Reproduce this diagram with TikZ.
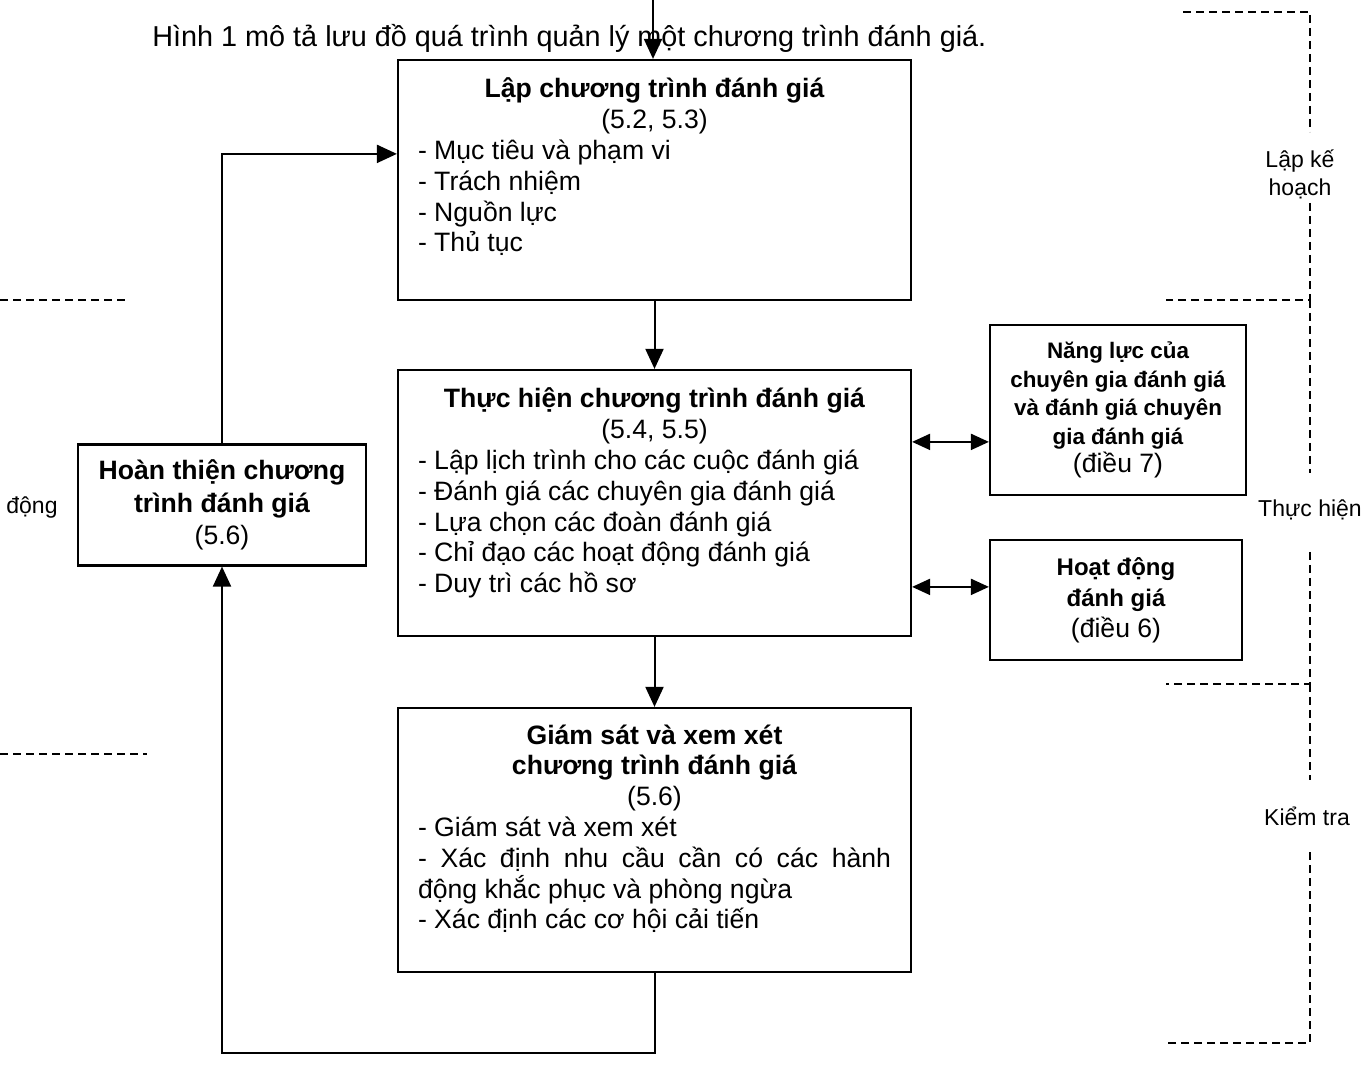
\documentclass[tikz,border=0pt]{standalone}
\usepackage{fontspec}
\setmainfont{Liberation Sans}
\usetikzlibrary{arrows.meta}
\setlength{\parskip}{0pt}
\newcommand{\boxbody}[4]{\parbox[c][#1][t]{236.5pt}{{\centering\rule{0pt}{#2}#3\par}\raggedright #4\par}}

\tikzset{
  stepbox/.style={draw, line width=1.1pt, inner xsep=10pt, inner ysep=0pt,
    font=\fontsize{13.3pt}{15.4pt}\selectfont},
  sidebox/.style={draw, line width=1.1pt, inner xsep=10pt, inner ysep=0pt, align=center,
    font=\fontsize{13.3pt}{16.2pt}\selectfont},
  flow/.style={line width=1pt, -{Triangle[length=10pt,width=9pt]}},
  biflow/.style={line width=1pt, {Triangle[length=9pt,width=8pt]}-{Triangle[length=9pt,width=8pt]}},
  bracket/.style={line width=0.9pt, dash pattern=on 4pt off 2.5pt},
  sidelabel/.style={align=center, inner sep=0pt, font=\fontsize{11.5pt}{14pt}\selectfont}
}

\begin{document}
\begin{tikzpicture}[x=0.5pt, y=-0.5pt]
\useasboundingbox (0,0) rectangle (1370,1068);

\node[anchor=base west, inner sep=0pt, font=\fontsize{14.4pt}{17pt}\selectfont] (caption) at (152,47)
  {Hình 1 mô tả lưu đồ quá trình quản lý một chương trình đánh giá.};

\node[stepbox] (plan) at (654.5,180) {\boxbody{120pt}{19pt}
  {\textbf{Lập chương trình đánh giá}\\(5.2, 5.3)}
  {- Mục tiêu và phạm vi\\- Trách nhiệm\\- Nguồn lực\\- Thủ tục}};
\node[stepbox] (do) at (654.5,503) {\boxbody{133pt}{19pt}
  {\textbf{Thực hiện chương trình đánh giá}\\(5.4, 5.5)}
  {- Lập lịch trình cho các cuộc đánh giá\\- Đánh giá các chuyên gia đánh giá\\- Lựa chọn các đoàn đánh giá\\- Chỉ đạo các hoạt động đánh giá\\- Duy trì các hồ sơ}};
\node[stepbox] (check) at (654.5,840) {\boxbody{132pt}{18pt}
  {\textbf{Giám sát và xem xét}\\\textbf{chương trình đánh giá}\\(5.6)}
  {- Giám sát và xem xét\\\makebox[\linewidth][s]{- Xác định nhu cầu cần có các hành}\\động khắc phục và phòng ngừa\\- Xác định các cơ hội cải tiến}};

\node[sidebox, minimum width=144pt, minimum height=60.5pt] (act) at (222,505)
  {\textbf{Hoàn thiện chương}\\\textbf{trình đánh giá}\\(5.6)};
\node[sidebox, minimum width=128pt, minimum height=85pt, font=\bfseries\fontsize{11.2pt}{14.3pt}\selectfont] (comp) at (1118,410)
  {Năng lực của\\chuyên gia đánh giá\\và đánh giá chuyên\\gia đánh giá\\{\mdseries\fontsize{13.3pt}{14.3pt}\selectfont(điều 7)}};
\node[sidebox, minimum width=126pt, minimum height=60pt, font=\bfseries\fontsize{12pt}{15.5pt}\selectfont] (audit) at (1116,600)
  {Hoạt động\\đánh giá\\{\mdseries\fontsize{13.3pt}{15.5pt}\selectfont(điều 6)}};

\coordinate (entry) at (653,0);
\draw[flow] (entry) -- (entry |- plan.north);
\draw[flow] (plan) -- (do);
\draw[flow] (do) -- (check);
\draw[flow] (check.south) -- ++(0,80) -| (act.south);
\draw[flow] (act.north) |- ([yshift=-47.5pt]plan.north west);
\draw[biflow] ([yshift=-36.5pt]do.north east) coordinate (d1) -- (d1 -| comp.west);
\draw[biflow] ([yshift=-109pt]do.north east) coordinate (d2) -- (d2 -| audit.west);

\node[sidelabel] (planlabel) at (1300,174) {Lập kế\\hoạch};
\node[sidelabel] (dolabel) at (1310,510) {Thực hiện};
\node[sidelabel] (checklabel) at (1307,816) {Kiểm tra};
\node[sidelabel] (actlabel) at (32,508) {động};

\draw[bracket] (1183,12) -- (1310,12) -- (1310,132);
\draw[bracket] (1310,203) -- (1310,300) -- (1166,300);
\draw[bracket] (1310,300) -- (1310,473);
\draw[bracket] (1310,552) -- (1310,684) -- (1166,684);
\draw[bracket] (1310,684) -- (1310,780);
\draw[bracket] (1310,852) -- (1310,1043) -- (1166,1043);
\draw[bracket] (0,300) -- (128,300);
\draw[bracket] (0,754) -- (147,754);
\end{tikzpicture}
\end{document}
